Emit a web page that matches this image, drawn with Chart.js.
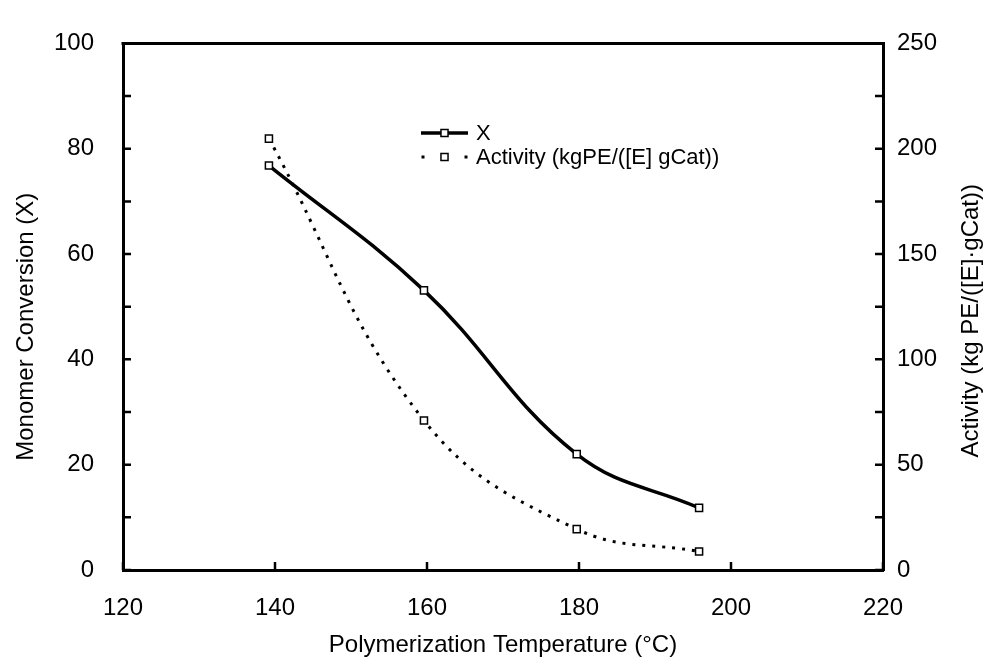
<!DOCTYPE html>
<html>
<head>
<meta charset="utf-8">
<script src="https://cdn.jsdelivr.net/npm/chart.js@4.4.1/dist/chart.umd.min.js"></script>
<style>
  html, body { margin: 0; padding: 0; background: #fff; }
  canvas { display: block; }
</style>
</head>
<body>
<canvas id="chart" width="993" height="671"></canvas>
<script>
// Polymerization temperature (°C) of each run
const temperatures = [139.2, 159.6, 179.7, 195.8];
// Monomer conversion X (left axis)
const conversion = [76.8, 53.1, 22.0, 11.8];
// Catalyst activity, kg PE/([E]·gCat) (right axis)
const activity = [204.8, 71.0, 19.4, 8.8];

const xRange = [120, 220];
const leftRange = [0, 100];
const rightRange = [0, 250];

const seriesNames = ['X', 'Activity (kgPE/([E] gCat))'];
const axisTitles = {
  x: 'Polymerization Temperature (°C)',
  left: 'Monomer Conversion (X)',
  right: 'Activity (kg PE/([E]·gCat))'
};

const FONT = 'Liberation Sans, Arial, Helvetica, sans-serif';
const INK = '#000';

const toPoints = (xs, ys) => xs.map((x, i) => ({ x, y: ys[i] }));

// Inward tick marks, top frame line, axis titles and the in-plot legend
const decorations = {
  id: 'decorations',
  afterDraw(chart) {
    const ctx = chart.ctx;
    const area = chart.chartArea;
    const sx = chart.scales.x, sl = chart.scales.y, sr = chart.scales.y2;
    const tick = 8;
    ctx.save();
    ctx.strokeStyle = INK;
    ctx.lineWidth = 2.5;
    ctx.beginPath();
    sx.ticks.forEach(t => {
      const px = sx.getPixelForValue(t.value);
      ctx.moveTo(px, area.bottom); ctx.lineTo(px, area.bottom - tick);
    });
    sl.ticks.forEach(t => {
      const py = sl.getPixelForValue(t.value);
      ctx.moveTo(area.left, py); ctx.lineTo(area.left + tick, py);
    });
    sr.ticks.forEach(t => {
      const py = sr.getPixelForValue(t.value);
      ctx.moveTo(area.right, py); ctx.lineTo(area.right - tick, py);
    });
    ctx.stroke();
    // top frame
    ctx.lineWidth = 3;
    ctx.beginPath();
    ctx.moveTo(area.left - 1.5, area.top);
    ctx.lineTo(area.right + 1.5, area.top);
    ctx.stroke();

    // axis titles
    ctx.fillStyle = INK;
    ctx.font = '24px ' + FONT;
    ctx.textAlign = 'center';
    ctx.textBaseline = 'middle';
    const midY = (area.top + area.bottom) / 2;
    ctx.fillText(axisTitles.x, (area.left + area.right) / 2, 645);
    ctx.save();
    ctx.translate(26, midY + 20);
    ctx.rotate(-Math.PI / 2);
    ctx.fillText(axisTitles.left, 0, 0);
    ctx.restore();
    ctx.save();
    ctx.translate(971, midY + 14);
    ctx.rotate(-Math.PI / 2);
    ctx.fillText(axisTitles.right, 0, 0);
    ctx.restore();

    // legend
    const ds = chart.data.datasets;
    const lx0 = 421, lx1 = 468, rows = [133, 157];
    ds.forEach((d, i) => {
      const y = rows[i];
      ctx.save();
      ctx.strokeStyle = d.borderColor;
      ctx.lineWidth = d.borderWidth;
      ctx.beginPath();
      if (d.borderDash) {
        [lx0 + 2, lx1 - 2].forEach(px => { ctx.moveTo(px - 1.5, y); ctx.lineTo(px + 1.5, y); });
      } else {
        ctx.moveTo(lx0, y); ctx.lineTo(lx1, y);
      }
      ctx.stroke();
      ctx.restore();
      const s = d.pointRadius * Math.SQRT1_2;
      ctx.save();
      ctx.fillStyle = d.pointBackgroundColor;
      ctx.strokeStyle = d.pointBorderColor;
      ctx.lineWidth = d.pointBorderWidth;
      ctx.beginPath();
      ctx.rect((lx0 + lx1) / 2 - s, y - s, 2 * s, 2 * s);
      ctx.fill(); ctx.stroke();
      ctx.restore();
      ctx.font = '22px ' + FONT;
      ctx.textAlign = 'left';
      ctx.fillText(d.label, lx1 + 8, y + 1);
    });
    ctx.restore();
  }
};

new Chart(document.getElementById('chart'), {
  type: 'line',
  data: {
    datasets: [
      {
        label: seriesNames[0],
        data: toPoints(temperatures, conversion),
        yAxisID: 'y',
        borderColor: INK,
        borderWidth: 3.5,
        tension: 0.4,
        pointStyle: 'rect',
        pointRadius: 5,
        pointBackgroundColor: '#fff',
        pointBorderColor: INK,
        pointBorderWidth: 1.5
      },
      {
        label: seriesNames[1],
        data: toPoints(temperatures, activity),
        yAxisID: 'y2',
        borderColor: INK,
        borderWidth: 3,
        borderDash: [3, 7],
        tension: 0.4,
        pointStyle: 'rect',
        pointRadius: 5,
        pointBackgroundColor: '#fff',
        pointBorderColor: INK,
        pointBorderWidth: 1.5
      }
    ]
  },
  options: {
    responsive: false,
    animation: false,
    clip: false,
    layout: { padding: { top: 29, left: 0, right: 0, bottom: 0 } },
    plugins: { legend: { display: false }, tooltip: { enabled: false } },
    scales: {
      x: {
        type: 'linear',
        min: xRange[0], max: xRange[1],
        grid: { display: false, drawTicks: false },
        border: { display: true, color: INK, width: 3 },
        ticks: { stepSize: 20, padding: 24, color: INK, font: { family: FONT, size: 24 } },
        afterFit(s) { s.height = 101; }
      },
      y: {
        position: 'left',
        min: leftRange[0], max: leftRange[1],
        grid: { display: false, drawTicks: false },
        border: { display: true, color: INK, width: 3 },
        ticks: {
          stepSize: 10, padding: 29, color: INK, font: { family: FONT, size: 24 },
          callback: v => (v % 20 === 0 ? v : '')
        },
        afterFit(s) { s.width = 123; }
      },
      y2: {
        position: 'right',
        min: rightRange[0], max: rightRange[1],
        grid: { display: false, drawTicks: false },
        border: { display: true, color: INK, width: 3 },
        ticks: {
          stepSize: 25, padding: 14, color: INK, font: { family: FONT, size: 24 },
          callback: v => (v % 50 === 0 ? v : '')
        },
        afterFit(s) { s.width = 110; }
      }
    }
  },
  plugins: [decorations]
});
</script>
</body>
</html>
